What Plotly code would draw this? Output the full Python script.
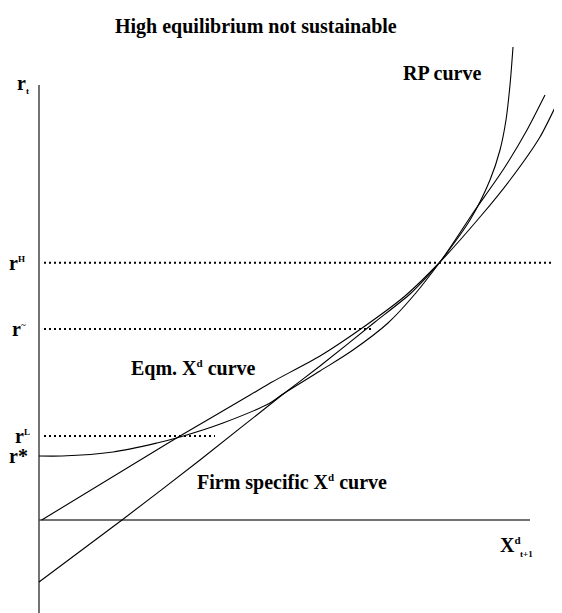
import plotly.graph_objects as go

# ---- data (diagram units: X = X^d_{t+1}, r = r_t) ----
eqm_x = [0.27, 12.1, 14.1, 21.1, 23.3, 28.1, 32.6, 36.6, 40.1, 44.1, 47.1, 50.1, 52.3]
eqm_r = [0.0, 7.2, 8.4, 12.5, 13.8, 16.4, 19.4, 22.4, 25.8, 30.3, 34.0, 38.3, 42.7]

rp_x = [0.0, 2.3, 7.4, 11.8, 14.1, 18.4, 23.1, 24.4, 28.1, 31.4, 34.9, 37.6, 40.1, 43.1, 45.1, 46.1, 46.7, 47.1, 47.4]
rp_r = [6.4, 6.4, 6.8, 7.7, 8.3, 9.7, 11.7, 12.6, 14.9, 17.0, 19.7, 22.6, 25.8, 30.0, 34.0, 37.0, 40.0, 43.5, 47.3]

firm_x = [0.0, 8.3, 16.1, 24.3, 28.1, 33.6, 37.1, 40.1, 43.4, 46.4, 48.8, 50.6]
firm_r = [-6.2, 0.0, 6.0, 12.5, 15.4, 19.8, 22.6, 25.8, 30.7, 35.0, 39.0, 42.5]

level_names = ["rH", "r~", "rL"]
level_r = [25.73, 19.1, 8.4]
level_x_end = [52.3, 33.3, 17.6]
r_star = 6.4

yaxis_x = [0, 0]
yaxis_r = [43.5, -9.3]
xaxis_x = [0, 49.1]
xaxis_r = [0, 0]

FONT = "Liberation Serif, Times New Roman, serif"

fig = go.Figure()

# axes
fig.add_trace(go.Scatter(x=yaxis_x, y=yaxis_r, mode="lines",
                         line=dict(color="#444", width=1.5), hoverinfo="skip"))
fig.add_trace(go.Scatter(x=xaxis_x, y=xaxis_r, mode="lines",
                         line=dict(color="#444", width=1.5), hoverinfo="skip"))

# dotted levels
for lr, le in zip(level_r, level_x_end):
    fig.add_trace(go.Scatter(x=[0.5, le], y=[lr, lr], mode="lines",
                             line=dict(color="black", width=2, dash="2px,3px"),
                             hoverinfo="skip"))

# curves
for cx, cr, sm in [(eqm_x, eqm_r, 0.6), (rp_x, rp_r, 0.9), (firm_x, firm_r, 0.6)]:
    fig.add_trace(go.Scatter(x=cx, y=cr, mode="lines",
                             line=dict(color="black", width=1.1, shape="spline", smoothing=sm),
                             hoverinfo="skip"))

def ann(x, y, text, size=20, xanchor="center", yanchor="middle"):
    fig.add_annotation(x=x, y=y, xref="x", yref="y", text=text, showarrow=False,
                       xanchor=xanchor, yanchor=yanchor,
                       font=dict(family=FONT, size=size, color="black"))

def small(t, px=10):
    return "<span style='font-size:%dpx'>%s</span>" % (px, t)

ann(21.7, 49.4, "<b>High equilibrium not sustainable</b>", size=20)
ann(40.25, 44.7, "<b>RP curve</b>", size=20)
ann(15.45, 15.2, "<b>Eqm. X<sup>" + small("d", 11) + "</sup> curve</b>", size=20)
ann(25.3, 3.8, "<b>Firm specific X<sup>" + small("d", 11) + "</sup> curve</b>", size=20)

ann(-2.4, 43.6, "<b>r<sub>" + small("t", 9) + "</sub></b>", size=20, xanchor="left")
ann(-1.2, level_r[0], "<b>r<sup>" + small("H", 9) + "</sup></b>", size=20, xanchor="right")
ann(-1.1, level_r[1], "<b>r<sup>" + small("~", 9) + "</sup></b>", size=20, xanchor="right")
ann(-0.7, level_r[2], "<b>r<sup>" + small("L", 9) + "</sup></b>", size=20, xanchor="right")
ann(-0.9, r_star, "<b>r*</b>", size=20, xanchor="right")
ann(45.9, -2.5, "<b>X<sup>" + small("d", 11) + "</sup></b>", size=20, xanchor="left")
ann(47.9, -3.35, "<b>t+1</b>", size=9, xanchor="left")

# page body has an 8px margin: figure covers image px 8..562 x 8..613
fig.update_layout(
    width=554, height=605, autosize=False,
    margin=dict(l=0, r=0, t=0, b=0),
    plot_bgcolor="white", paper_bgcolor="white",
    showlegend=False,
    xaxis=dict(range=[-3.1, 52.3], visible=False, fixedrange=True),
    yaxis=dict(range=[-9.3, 51.2], visible=False, fixedrange=True),
)

fig.write_html("out.html")
